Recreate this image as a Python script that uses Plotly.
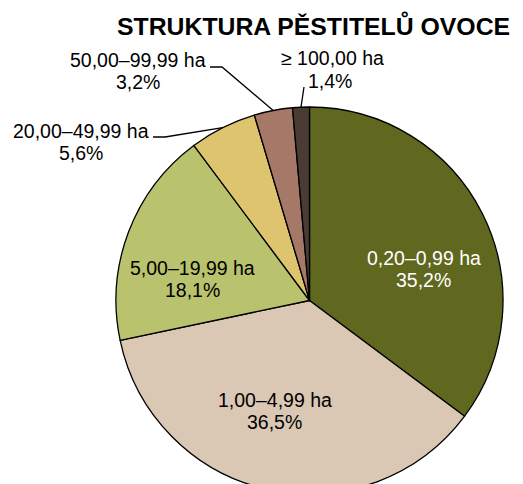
import math
import plotly.graph_objects as go

categories = ["0,20–0,99 ha", "1,00–4,99 ha", "5,00–19,99 ha",
              "20,00–49,99 ha", "50,00–99,99 ha", "≥ 100,00 ha"]
shares = [35.2, 36.5, 18.1, 5.6, 3.2, 1.4]
share_labels = ["35,2%", "36,5%", "18,1%", "5,6%", "3,2%", "1,4%"]
colors = ["#5f681e", "#dbc8b4", "#b9c36d", "#dfc470", "#a57868", "#4a3b35"]
title_text = "STRUKTURA PĚSTITELŮ OVOCE"

# page offset (browser body margin) compensated in pixel placement
OFF = 8
W, H = 515, 492
FONT = "Liberation Sans, Arial, sans-serif"

# pie geometry in screen pixels
cx, cy, r = 309.5, 300.5, 193.5

def px(x):
    return (x - OFF) / W

def py(y):
    return 1 - (y - OFF) / H

fig = go.Figure(go.Pie(
    values=shares,
    labels=categories,
    sort=False,
    direction="clockwise",
    rotation=0,
    marker=dict(colors=colors, line=dict(color="black", width=1.3)),
    textinfo="none",
    hoverinfo="label+percent",
    domain=dict(x=[px(cx - r), px(cx + r)], y=[py(cy + r), py(cy - r)]),
    showlegend=False,
))

# label line centres (screen pixels): (x1, y1, x2, y2, colour)
label_pos = [
    (423.5, 258.0, 423.5, 280.0, "white"),
    (274.5, 400.0, 274.5, 422.0, "black"),
    (192.0, 268.3, 192.0, 289.5, "black"),
    (81.0, 131.3, 81.0, 153.3, "black"),
    (138.0, 59.7, 137.5, 81.7, "black"),
    (332.5, 58.3, 330.0, 81.0, "black"),
]

annotations = []
for cat, sl, (x1, y1, x2, y2, c) in zip(categories, share_labels, label_pos):
    for txt, x, y in ((cat, x1, y1), (sl, x2, y2)):
        annotations.append(dict(
            x=px(x), y=py(y), xref="paper", yref="paper",
            text=txt, showarrow=False,
            xanchor="center", yanchor="middle",
            font=dict(family=FONT, size=19.5, color=c),
        ))

annotations.append(dict(
    x=px(313.5), y=py(25.5), xref="paper", yref="paper",
    text=f"<b>{title_text}</b>", showarrow=False,
    xanchor="center", yanchor="middle",
    font=dict(family=FONT, size=24.8, color="black"),
))

# leader lines: from text to the middle of the slice edge (computed from data)
total = sum(shares)
cum = 0
mids = []
for v in shares:
    mids.append((cum + v / 2) / total * 2 * math.pi)
    cum += v

def edge(i):
    a = mids[i]
    return cx + r * math.sin(a), cy - r * math.cos(a)

leaders = {3: [(153, 137), (165, 137)], 4: [(210, 67), (222, 67)], 5: [(304, 87)]}
shapes = []
for i, pts in leaders.items():
    pts = pts + [edge(i)]
    path = "M " + " L ".join(f"{px(x)},{py(y)}" for x, y in pts)
    shapes.append(dict(type="path", path=path, xref="paper", yref="paper",
                       line=dict(color="black", width=1.3)))

fig.update_layout(
    width=W, height=H,
    margin=dict(l=0, r=0, t=0, b=0),
    paper_bgcolor="white", plot_bgcolor="white",
    annotations=annotations, shapes=shapes,
)

fig.write_html("out.html")
